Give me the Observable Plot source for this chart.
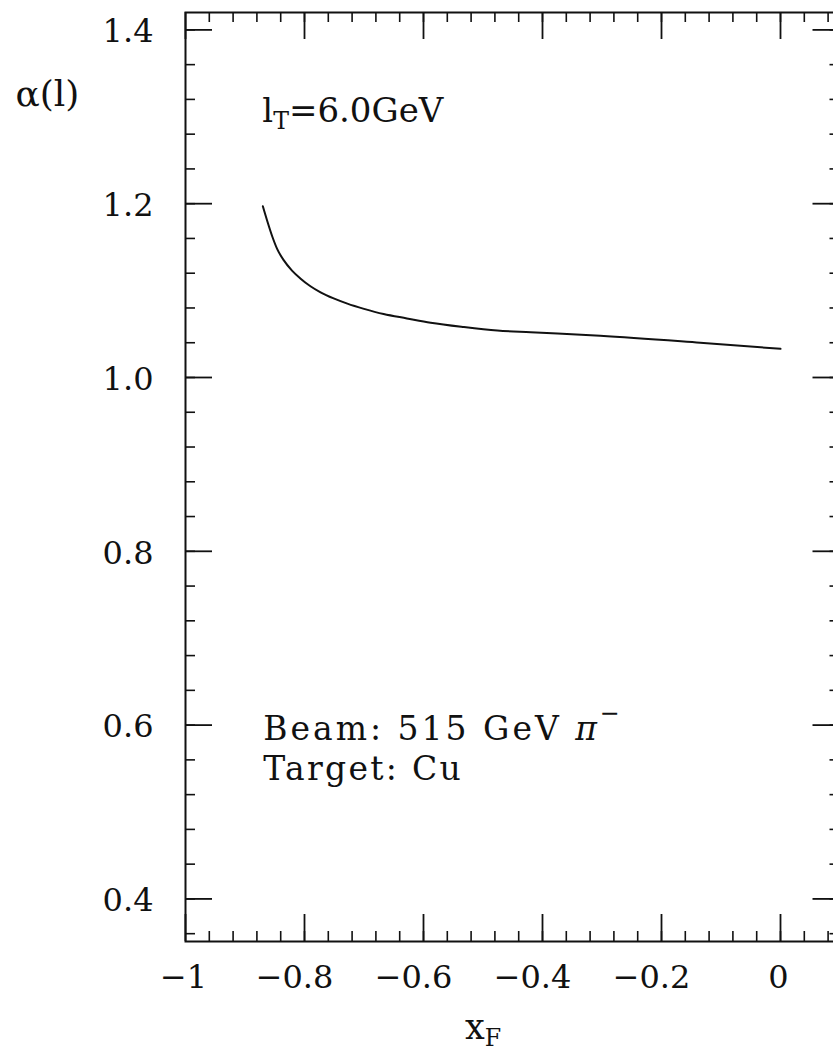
<!DOCTYPE html>
<html><head><meta charset="utf-8">
<script src="https://cdn.jsdelivr.net/npm/d3@7"></script>
<script src="https://cdn.jsdelivr.net/npm/@observablehq/plot@0.6"></script>
<style>
html,body{margin:0;padding:0;background:#fff;overflow:hidden;}
.note-beam text{letter-spacing:3px;}
.note-target text{letter-spacing:2.3px;}
</style></head><body><div id="chart"></div>
<script>
// curve: alpha(l) vs x_F  (l_T = 6.0 GeV, 515 GeV pi- on Cu)
const xF    = [-0.870, -0.863, -0.854, -0.846, -0.835, -0.821, -0.807, -0.790, -0.773, -0.751, -0.728, -0.700, -0.667, -0.628, -0.588, -0.532, -0.476, -0.420, -0.303, -0.135, 0.000];
const alpha = [ 1.197,  1.181,  1.162,  1.148,  1.135,  1.123,  1.114,  1.105,  1.098,  1.091,  1.085,  1.079,  1.073,  1.068,  1.063,  1.058,  1.054,  1.052,  1.048,  1.040,  1.033];

const xMajorShifted = [-0.8, -0.6, -0.4, -0.2];
const xMajorPlain   = [-1, 0];
const xMajor = [-1, -0.8, -0.6, -0.4, -0.2, 0];
const yMajor = [0.4, 0.6, 0.8, 1.0, 1.2, 1.4];
const xMinor = d3.range(-24, 3).map(i => +(i * 0.04).toFixed(2));
const yMinor = d3.range(9, 36).map(i => +(i * 0.04).toFixed(2));

const yTitle = ["α(l)"];
const xTitle = ["x_{F}"];
const note1 = ["l_{T}=6.0GeV"];
const note2 = ["Beam: 515 GeV *{π}^{−}"];
const note3 = ["Target: Cu"];

const data = xF.map((x, i) => ({x, a: alpha[i]}));

const W = 833, H = 1051;
const mTop = 12, mBottom = 110, mLeft = 185, mRight = -6.5;
const innerH = H - mTop - mBottom;
const innerW = W - mLeft - mRight;
const font = "DejaVu Serif";
const ink = "#111";

const plot = Plot.plot({
  width: W, height: H,
  marginTop: mTop, marginBottom: mBottom, marginLeft: mLeft, marginRight: mRight,
  x: {domain: [-1, 0.1]},
  y: {domain: [0.351, 1.42]},
  style: {fontFamily: font, fontSize: "32px", color: ink, background: "#fff"},
  marks: [
    Plot.frame({stroke: ink, strokeWidth: 2}),
    // bottom ticks
    Plot.tickX(xMinor, {x: d => d, insetTop: innerH - 10, stroke: ink, strokeWidth: 1.6}),
    Plot.tickX(xMajor, {x: d => d, insetTop: innerH - 27, stroke: ink, strokeWidth: 1.8}),
    // top ticks
    Plot.tickX(xMinor, {x: d => d, insetBottom: innerH - 10, stroke: ink, strokeWidth: 1.6}),
    Plot.tickX(xMajor, {x: d => d, insetBottom: innerH - 27, stroke: ink, strokeWidth: 1.8}),
    // left ticks
    Plot.tickY(yMinor, {y: d => d, insetRight: innerW - 10, stroke: ink, strokeWidth: 1.6}),
    Plot.tickY(yMajor, {y: d => d, insetRight: innerW - 27, stroke: ink, strokeWidth: 1.8}),
    // right ticks
    Plot.tickY(yMinor, {y: d => d, insetLeft: innerW - 10, stroke: ink, strokeWidth: 1.6}),
    Plot.tickY(yMajor, {y: d => d, insetLeft: innerW - 27, stroke: ink, strokeWidth: 1.8}),
    // tick labels
    Plot.axisY(yMajor, {anchor: "left", tickSize: 0, tickPadding: 32, dy: 2, label: null,
      tickFormat: d3.format(".1f"), fontSize: 32, fontFamily: font, fill: ink}),
    Plot.axisX(xMajorShifted, {anchor: "bottom", tickSize: 0, tickPadding: 24, dx: -10, label: null,
      tickFormat: d3.format("~g"), fontSize: 32, fontFamily: font, fill: ink}),
    Plot.axisX(xMajorPlain, {anchor: "bottom", tickSize: 0, tickPadding: 24, dx: -2, label: null,
      tickFormat: d3.format("~g"), fontSize: 32, fontFamily: font, fill: ink}),
    // the curve
    Plot.line(data, {x: "x", y: "a", stroke: ink, strokeWidth: 2, curve: "monotone-x"}),
    // axis titles
    Plot.text(yTitle, {text: d => d, frameAnchor: "top-left", dx: -170, dy: 93,
      textAnchor: "start", lineAnchor: "bottom", fontSize: 36, fontFamily: font, fill: ink}),
    Plot.text(xTitle, {text: d => d, x: -0.5, frameAnchor: "bottom", dy: 97,
      textAnchor: "middle", lineAnchor: "bottom", fontSize: 35, fontFamily: font, fill: ink}),
    // annotations
    Plot.text(note1, {text: d => d, x: -0.871, y: 1.2935, textAnchor: "start", lineAnchor: "bottom",
      fontSize: 34, fontFamily: font, fill: ink}),
    Plot.text(note2, {text: d => d, x: -0.8694, y: 0.5823, textAnchor: "start", lineAnchor: "bottom",
      fontSize: 33, fontFamily: font, fill: ink, className: "note-beam"}),
    Plot.text(note3, {text: d => d, x: -0.8694, y: 0.5363, textAnchor: "start", lineAnchor: "bottom",
      fontSize: 33, fontFamily: font, fill: ink, className: "note-target"})
  ]
});

// rich text: "_{..}" subscript, "^{..}" superscript, "*{..}" italic (real text in tspans)
const SVGNS = "http://www.w3.org/2000/svg";
plot.querySelectorAll("text").forEach(el => {
  const s = el.textContent;
  if (!/[_^*]\{/.test(s)) return;
  const fs = parseFloat(el.getAttribute("font-size")) || 32;
  while (el.firstChild) el.removeChild(el.firstChild);
  const re = /([_^*])\{([^}]*)\}/g;
  let last = 0, m, offset = 0;
  const add = (txt, dy, size, italic) => {
    if (!txt) return;
    const t = document.createElementNS(SVGNS, "tspan");
    t.textContent = txt;
    if (dy) t.setAttribute("dy", dy);
    if (size) t.setAttribute("font-size", size);
    if (italic) t.setAttribute("font-style", "italic");
    el.appendChild(t);
  };
  while ((m = re.exec(s))) {
    add(s.slice(last, m.index), -offset, null, false); if (m.index > last) offset = 0;
    if (m[1] === "_") { const sh = 0.22 * fs; add(m[2], sh - offset, 0.74 * fs, false); offset = sh; }
    else if (m[1] === "^") { const sh = -0.62 * fs; add(m[2], sh - offset, 0.74 * fs, false); offset = sh; }
    else { add(m[2], -offset, null, true); offset = 0; }
    last = re.lastIndex;
  }
  if (last < s.length) add(s.slice(last), -offset, null, false);
});

document.getElementById("chart").appendChild(plot);
</script>
</body></html>
